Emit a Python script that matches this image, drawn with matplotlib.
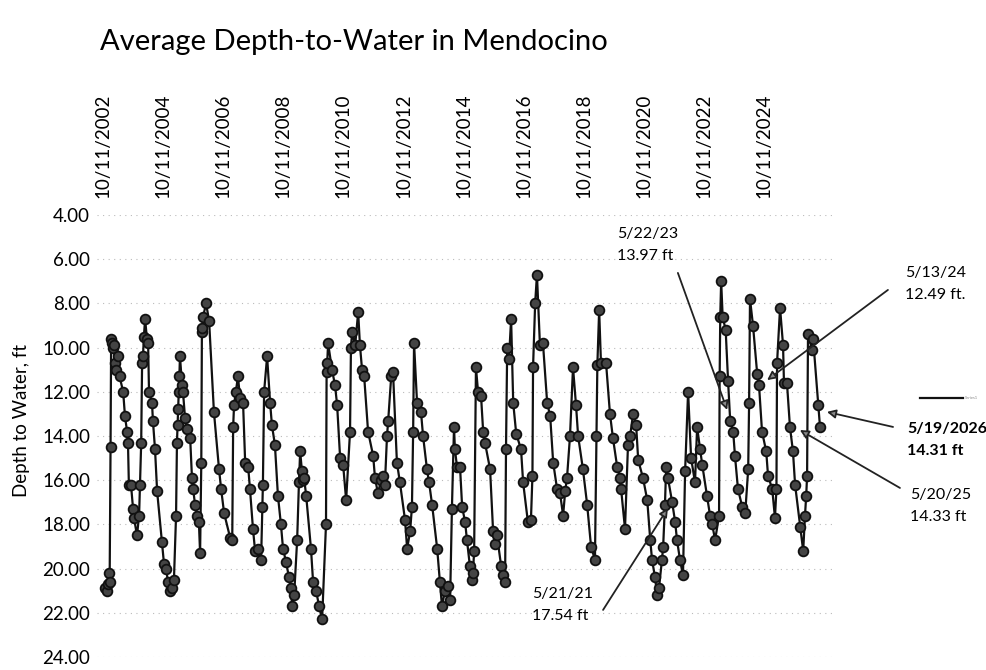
import matplotlib
matplotlib.use("Agg")
import matplotlib.pyplot as plt
from matplotlib.lines import Line2D

plt.rcParams["font.family"] = ["Lato", "DejaVu Sans"]

# sample dates as decimal years
years = [
    2002.85, 2002.90, 2002.94, 2002.97, 2003.00, 2003.03, 2003.05, 2003.08, 2003.11, 2003.15,
    2003.18, 2003.21, 2003.28, 2003.33, 2003.45, 2003.51, 2003.58, 2003.61, 2003.64, 2003.71,
    2003.78, 2003.81, 2003.91, 2003.98, 2004.01, 2004.05, 2004.08, 2004.11, 2004.14, 2004.18,
    2004.24, 2004.28, 2004.31, 2004.41, 2004.44, 2004.51, 2004.58, 2004.74, 2004.81, 2004.88,
    2004.94, 2005.01, 2005.08, 2005.14, 2005.21, 2005.24, 2005.26, 2005.28, 2005.30, 2005.32,
    2005.34, 2005.41, 2005.44, 2005.51, 2005.58, 2005.68, 2005.74, 2005.78, 2005.84, 2005.91,
    2005.97, 2006.01, 2006.05, 2006.07, 2006.09, 2006.11, 2006.21, 2006.31, 2006.47, 2006.64,
    2006.71, 2006.81, 2007.01, 2007.08, 2007.11, 2007.14, 2007.20, 2007.27, 2007.34, 2007.44,
    2007.51, 2007.61, 2007.67, 2007.77, 2007.84, 2007.94, 2008.04, 2008.08, 2008.10, 2008.14,
    2008.24, 2008.34, 2008.40, 2008.50, 2008.60, 2008.70, 2008.77, 2008.87, 2008.97, 2009.04,
    2009.07, 2009.14, 2009.24, 2009.30, 2009.34, 2009.40, 2009.44, 2009.47, 2009.54, 2009.70,
    2009.77, 2009.87, 2009.97, 2010.07, 2010.20, 2010.22, 2010.24, 2010.27, 2010.40, 2010.50,
    2010.57, 2010.67, 2010.77, 2010.87, 2011.00, 2011.03, 2011.07, 2011.17, 2011.27, 2011.33,
    2011.40, 2011.47, 2011.60, 2011.77, 2011.83, 2011.93, 2012.03, 2012.10, 2012.16, 2012.23,
    2012.27, 2012.37, 2012.43, 2012.56, 2012.66, 2012.83, 2012.90, 2013.00, 2013.06, 2013.10,
    2013.13, 2013.23, 2013.36, 2013.43, 2013.56, 2013.63, 2013.73, 2013.90, 2013.99, 2014.06,
    2014.16, 2014.26, 2014.33, 2014.39, 2014.46, 2014.49, 2014.56, 2014.66, 2014.73, 2014.83,
    2014.89, 2014.99, 2015.06, 2015.09, 2015.13, 2015.19, 2015.26, 2015.36, 2015.43, 2015.49,
    2015.66, 2015.76, 2015.83, 2015.89, 2016.03, 2016.09, 2016.16, 2016.19, 2016.23, 2016.29,
    2016.36, 2016.43, 2016.53, 2016.69, 2016.76, 2016.92, 2017.02, 2017.07, 2017.09, 2017.16,
    2017.22, 2017.32, 2017.42, 2017.56, 2017.66, 2017.76, 2017.89, 2017.99, 2018.09, 2018.16,
    2018.22, 2018.32, 2018.42, 2018.52, 2018.59, 2018.75, 2018.89, 2019.02, 2019.15, 2019.20,
    2019.23, 2019.29, 2019.35, 2019.52, 2019.65, 2019.75, 2019.89, 2019.99, 2020.02, 2020.15,
    2020.25, 2020.32, 2020.42, 2020.52, 2020.59, 2020.75, 2020.89, 2020.99, 2021.05, 2021.15,
    2021.22, 2021.28, 2021.38, 2021.42, 2021.48, 2021.52, 2021.58, 2021.72, 2021.82, 2021.88,
    2021.98, 2022.08, 2022.15, 2022.25, 2022.35, 2022.48, 2022.55, 2022.65, 2022.72, 2022.88,
    2022.98, 2023.05, 2023.15, 2023.28, 2023.30, 2023.32, 2023.35, 2023.40, 2023.50, 2023.58,
    2023.65, 2023.75, 2023.81, 2023.91, 2024.05, 2024.15, 2024.25, 2024.28, 2024.31, 2024.41,
    2024.55, 2024.61, 2024.71, 2024.85, 2024.91, 2025.05, 2025.14, 2025.19, 2025.21, 2025.31,
    2025.41, 2025.44, 2025.54, 2025.64, 2025.74, 2025.81, 2025.98, 2026.08, 2026.14, 2026.18,
    2026.21, 2026.24, 2026.38, 2026.41, 2026.58, 2026.64,
]
# depth to water, ft
depth = [
    20.9, 21.0, 20.7, 20.2, 20.6, 14.5, 9.6, 9.8, 10.0, 9.9,
    10.7, 11.0, 10.4, 11.3, 12.0, 13.1, 13.8, 14.3, 16.2, 16.2,
    17.3, 17.7, 18.5, 17.6, 16.2, 14.3, 10.7, 10.4, 9.5, 8.7,
    9.6, 9.8, 12.0, 12.5, 13.3, 14.6, 16.5, 18.8, 19.8, 20.0,
    20.6, 21.0, 20.9, 20.5, 17.6, 14.3, 13.5, 12.8, 12.0, 11.3,
    10.4, 11.7, 12.0, 13.2, 13.7, 14.1, 15.9, 16.4, 17.1, 17.6,
    17.9, 19.3, 15.2, 9.3, 9.1, 8.6, 8.0, 8.8, 12.9, 15.5,
    16.4, 17.5, 18.6, 18.7, 13.6, 12.6, 12.0, 11.3, 12.3, 12.5,
    15.2, 15.4, 16.4, 18.2, 19.2, 19.1, 19.6, 17.2, 16.2, 12.0,
    10.4, 12.5, 13.5, 14.4, 16.7, 18.0, 19.1, 19.7, 20.4, 20.9,
    21.7, 21.2, 18.7, 16.1, 14.7, 15.6, 16.0, 15.9, 16.7, 19.1,
    20.6, 21.0, 21.7, 22.3, 18.0, 11.1, 10.7, 9.8, 11.0, 11.7,
    12.6, 15.0, 15.3, 16.9, 13.8, 10.0, 9.3, 9.9, 8.4, 9.9,
    11.0, 11.3, 13.8, 14.9, 15.9, 16.6, 16.0, 15.8, 16.2, 14.0,
    13.3, 11.3, 11.1, 15.2, 16.1, 17.8, 19.1, 18.3, 17.2, 13.8,
    9.8, 12.5, 12.9, 14.0, 15.5, 16.1, 17.1, 19.1, 20.6, 21.7,
    21.0, 20.8, 21.4, 17.3, 13.6, 14.6, 15.4, 15.4, 17.2, 17.9,
    18.7, 19.9, 20.5, 20.2, 19.2, 10.9, 12.0, 12.2, 13.8, 14.3,
    15.5, 18.3, 18.9, 18.5, 19.9, 20.3, 20.6, 14.6, 10.0, 10.5,
    8.7, 12.5, 13.9, 14.6, 16.1, 17.9, 17.8, 15.8, 10.9, 8.0,
    6.7, 9.9, 9.8, 12.5, 13.1, 15.2, 16.4, 16.6, 17.6, 16.5,
    15.9, 14.0, 10.9, 12.6, 14.0, 15.5, 17.1, 19.0, 19.6, 14.0,
    10.8, 8.3, 10.7, 10.7, 13.0, 14.1, 15.4, 15.9, 16.4, 18.2,
    14.4, 14.0, 13.0, 13.5, 15.1, 15.9, 16.9, 18.7, 19.6, 20.4,
    21.2, 20.9, 19.6, 19.0, 17.1, 15.4, 15.9, 17.0, 17.9, 18.7,
    19.6, 20.3, 15.6, 12.0, 15.0, 16.1, 13.6, 14.6, 15.3, 16.7,
    17.6, 18.0, 18.7, 17.6, 11.3, 8.6, 7.0, 8.6, 9.2, 11.5,
    13.3, 13.8, 14.9, 16.4, 17.2, 17.5, 15.5, 12.5, 7.8, 9.0,
    11.2, 11.7, 13.8, 14.7, 15.8, 16.4, 17.7, 16.4, 10.7, 8.2,
    9.9, 11.6, 11.6, 13.6, 14.7, 16.2, 18.1, 19.2, 17.6, 16.7,
    15.8, 9.4, 10.1, 9.6, 12.6, 13.6,
]

tick_years = [2002.78 + 2 * k for k in range(12)]
tick_labels = ["10/11/%d" % (2002 + 2 * k) for k in range(12)]
y_ticks = [4, 6, 8, 10, 12, 14, 16, 18, 20, 22, 24]

# callouts: text, text anchor (x, y), line start, arrow tip, bold
callouts = [
    ("5/22/23\n13.97 ft", (2019.89, 5.36), (2021.91, 6.62), (2023.55, 12.82), False),
    ("5/13/24\n12.49 ft.", (2029.47, 7.12), (2028.90, 7.39), (2024.88, 11.47), False),
    ("5/19/2026\n14.31 ft", (2029.53, 14.18), (2029.07, 13.59), (2026.87, 12.91), True),
    ("5/20/25\n14.33 ft", (2029.63, 17.17), (2029.30, 16.35), (2025.97, 13.73), False),
    ("5/21/21\n17.54 ft", (2017.06, 21.65), (2019.42, 21.87), (2021.58, 17.26), False),
]

fig = plt.figure(figsize=(9.86, 6.70), dpi=100)
ax = fig.add_axes([0.0984, 0.0194, 0.7485, 0.6597])

ax.plot(years, depth, color="#111111", lw=1.6, marker="o", ms=7,
        mfc="#444444", mec="#111111", mew=1.3, zorder=3)

ax.set_xlim(2002.58, 2027.14)
ax.set_ylim(24, 4)
ax.set_yticks(y_ticks)
ax.set_yticklabels(["%.2f" % v for v in y_ticks], fontsize=13.5)
ax.set_xticks(tick_years)
ax.set_xticklabels(tick_labels, rotation=90, fontsize=13.5)
ax.xaxis.tick_top()
ax.tick_params(axis="x", length=0, pad=12)
ax.tick_params(axis="y", length=0, pad=5)
for sp in ax.spines.values():
    sp.set_visible(False)
ax.yaxis.grid(True, color="#bbbbbb", ls=(0, (1, 4)), lw=0.8)
ax.set_axisbelow(True)

ax.set_ylabel("Depth to Water, ft", fontsize=13.5)
ax.yaxis.set_label_coords(-0.091, 0.534)

for txt, tpos, start, tip, bold in callouts:
    ax.text(tpos[0], tpos[1], txt, ha="left", va="center", fontsize=11.5,
            fontweight="bold" if bold else "normal", linespacing=1.75, clip_on=False)
    ax.annotate("", xy=tip, xytext=start, annotation_clip=False,
                arrowprops=dict(arrowstyle="-|>", color="#222222", lw=1.3,
                                mutation_scale=13, fc="#888888",
                                shrinkA=0, shrinkB=0), zorder=5)

# stray legend entry on the right
fig.add_artist(Line2D([0.933, 0.977], [0.406, 0.406], color="#111111", lw=1.6))
fig.text(0.979, 0.406, "Series1", fontsize=3, color="#888888", va="center")

fig.text(0.1014, 0.937, "Average Depth-to-Water in Mendocino", fontsize=21, va="center")

fig.savefig("out.png", dpi=100)
